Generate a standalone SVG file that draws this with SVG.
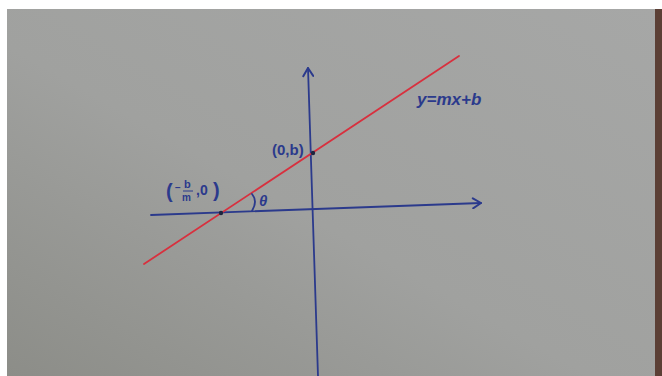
<svg xmlns="http://www.w3.org/2000/svg" width="662" height="376" viewBox="0 0 662 376">
  <defs>
    <linearGradient id="paper" x1="0" y1="1" x2="1" y2="0">
      <stop offset="0" stop-color="#8c8d88"/>
      <stop offset="0.45" stop-color="#a0a19f"/>
      <stop offset="1" stop-color="#a6a7a6"/>
    </linearGradient>
    <marker id="arrow" viewBox="0 0 12 12" refX="10" refY="6" markerWidth="12" markerHeight="12" markerUnits="userSpaceOnUse" orient="auto">
      <path d="M2,1 L10,6 L2,11" fill="none" stroke="#2b3a8c" stroke-width="2" stroke-linecap="round" stroke-linejoin="round"/>
    </marker>
    <style>
      .axis { stroke: #2b3a8c; stroke-width: 1.8; fill: none; stroke-linecap: round; }
      .red { stroke: #d8303e; stroke-width: 1.8; fill: none; stroke-linecap: round; }
      .lbl { font-family: "Liberation Sans", "DejaVu Sans", sans-serif; fill: #2b3a8c; font-weight: bold; }
      .dot { fill: #1e2540; }
    </style>
  </defs>

  <rect x="0" y="0" width="662" height="376" fill="#ffffff"/>
  <rect x="7" y="9" width="649" height="367" fill="url(#paper)"/>
  <rect x="655" y="9" width="7" height="367" fill="#5b3f35"/>

  <g id="connectors">
    <line id="x-axis" class="axis" x1="151" y1="215" x2="481" y2="203" marker-end="url(#arrow)"/>
    <line id="y-axis" class="axis" x1="318" y1="376" x2="308" y2="68" marker-end="url(#arrow)"/>
    <line id="line-y-mx-b" class="red" x1="144" y1="264" x2="459" y2="56"/>
    <path id="angle-arc" class="axis" d="M252,194 Q258,201 252,211" stroke-width="1.6"/>
  </g>

  <g id="point-x-intercept">
    <circle class="dot" cx="221" cy="213" r="2.2"/>
    <text class="lbl" x="166" y="198" font-size="20">(</text>
    <text class="lbl" x="175" y="191" font-size="10">−</text>
    <text class="lbl" x="184" y="188" font-size="11">b</text>
    <line x1="183" y1="191" x2="193" y2="191" stroke="#2b3a8c" stroke-width="1"/>
    <text class="lbl" x="182" y="201" font-size="10">m</text>
    <text class="lbl" x="196" y="195" font-size="14">,0</text>
    <text class="lbl" x="213" y="197" font-size="20">)</text>
  </g>

  <g id="point-y-intercept">
    <circle class="dot" cx="313" cy="153" r="2.2"/>
    <text class="lbl" x="272" y="155" font-size="15">(0,b)</text>
  </g>

  <g id="equation">
    <text class="lbl" x="417" y="105" font-size="17" font-style="italic">y=mx+b</text>
  </g>

  <g id="angle-theta">
    <text class="lbl" x="259" y="206" font-size="15" font-style="italic">θ</text>
  </g>
</svg>
